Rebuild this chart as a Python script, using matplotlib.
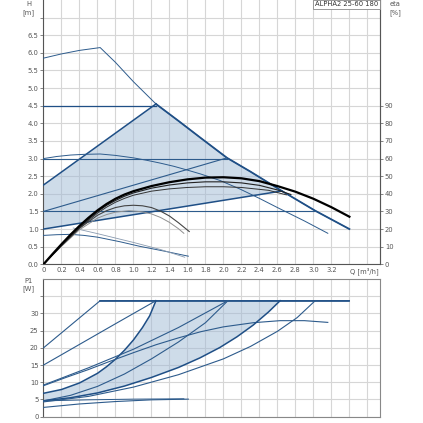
import matplotlib
matplotlib.use('Agg')
import matplotlib.pyplot as plt
import numpy as np

# ---------------- data : head plot (Q [m3/h], H [m]) ----------------
max_q = [0, 0.2, 0.4, 0.63, 0.8, 1.0, 1.25, 1.5, 1.74, 2.04, 2.3, 2.65, 3.02, 3.4]
max_h = [5.85, 5.97, 6.07, 6.15, 5.73, 5.18, 4.55, 4.07, 3.6, 3.02, 2.63, 2.08, 1.52, 1.0]
cp45_q = [0, 1.25]; cp45_h = [4.5, 4.5]
ppmax_q = [0, 1.25]; ppmax_h = [2.25, 4.55]
cp30_q = [0, 2.04]; cp30_h = [3.0, 3.0]
pp2_q = [0, 2.04]; pp2_h = [1.5, 3.02]
cp15_q = [0, 3.02]; cp15_h = [1.5, 1.5]
pp1_q = [0, 2.65]; pp1_h = [1.0, 2.08]
sp3_q = [0, 0.15, 0.3, 0.45, 0.63, 0.8, 1.0, 1.15, 1.3, 1.45, 1.59, 1.75, 1.96, 2.18, 2.4, 2.6, 2.9, 3.16]
sp3_h = [3.0, 3.06, 3.1, 3.12, 3.13, 3.09, 3.02, 2.95, 2.87, 2.78, 2.68, 2.56, 2.38, 2.14, 1.87, 1.61, 1.23, 0.88]
sp1_q = [0, 0.15, 0.3, 0.45, 0.6, 0.85, 1.07, 1.35, 1.61]
sp1_h = [0.82, 0.84, 0.85, 0.82, 0.77, 0.64, 0.51, 0.37, 0.23]
gr_q = [0.33, 0.6, 1.0, 1.3, 1.57]
gr_h = [1.03, 0.87, 0.62, 0.42, 0.2]

# efficiency curves (eta [%])
e1_q = [0, 0.1, 0.2, 0.3, 0.4, 0.5, 0.6, 0.7, 0.8, 0.9, 1.0, 1.2, 1.4, 1.6, 1.8, 2.0, 2.2, 2.4, 2.6, 2.8, 3.0, 3.2, 3.4]
e1_v = [0, 5.8, 11.4, 16.8, 21.8, 26.4, 30.6, 34.2, 37.2, 39.6, 41.5, 44.4, 46.6, 48.2, 49.2, 49.4, 48.8, 47.2, 44.4, 41.2, 37.2, 32.4, 27]
e2_q = [0, 0.2, 0.4, 0.6, 0.7, 0.8, 0.9, 1.0, 1.2, 1.4, 1.6, 1.8, 2.0, 2.2, 2.4, 2.6, 2.75]
e2_v = [0, 11, 21.2, 29.8, 33.4, 36.2, 38.6, 40.5, 43.2, 45, 46.2, 46.8, 46.8, 46.2, 44.8, 42.2, 39.6]
e3_q = [0, 0.2, 0.4, 0.6, 0.7, 0.8, 0.9, 1.0, 1.2, 1.4, 1.6, 1.8, 2.0, 2.2, 2.5, 2.7]
e3_v = [0, 10.6, 20.6, 29, 32.4, 35.2, 37.4, 39.2, 41.5, 42.8, 43.6, 44, 44, 43.6, 42, 39.4]
e4_q = [0, 0.2, 0.4, 0.6, 0.7, 0.8, 0.9, 1.0, 1.1, 1.2, 1.3, 1.4, 1.5, 1.62]
e4_v = [0, 10.6, 20.4, 27.8, 30.4, 32.2, 33.2, 33.5, 33.2, 32.2, 30.2, 27.4, 23.6, 18.6]
e5_q = [0, 0.2, 0.4, 0.6, 0.7, 0.8, 0.95, 1.1, 1.2, 1.3, 1.4, 1.5, 1.56]
e5_v = [0, 10.2, 19.6, 26.2, 28.2, 29.6, 30.4, 29.8, 28.6, 26.6, 23.8, 20.2, 17.6]

# ---------------- data : power plot (P1 [W]) ----------------
pmax_q = [0, 0.63, 3.4]; pmax_p = [20, 33.7, 33.7]
pcp45_q = [0, 0.4, 0.8, 1.25]; pcp45_p = [15, 21, 27, 33.7]
pppmax_q = [0, 0.2, 0.4, 0.6, 0.7, 0.8, 0.9, 1.0, 1.1, 1.18, 1.25]
pppmax_p = [6.8, 7.9, 9.8, 12.6, 14.5, 16.7, 19.3, 22.3, 25.9, 29.3, 33.7]
pcp30_q = [0, 0.5, 1.0, 1.5, 2.05]; pcp30_p = [9.2, 14.2, 19.6, 25.9, 33.7]
ppp2_q = [0, 0.3, 0.6, 0.9, 1.2, 1.5, 1.8, 2.05]; ppp2_p = [4.6, 6.2, 8.8, 12.4, 16.8, 21.7, 27.3, 33.7]
psp3_q = [0, 0.25, 0.5, 0.75, 1.0, 1.25, 1.5, 1.75, 2.0, 2.33, 2.63, 2.9, 3.16]
psp3_p = [9.0, 11.4, 13.7, 16.2, 18.6, 20.9, 22.9, 24.7, 26.1, 27.3, 27.9, 27.9, 27.4]
ppp1_q = [0, 0.3, 0.6, 0.9, 1.2, 1.5, 1.74, 1.96, 2.15, 2.33, 2.5, 2.63]
ppp1_p = [4.6, 5.5, 6.9, 8.9, 11.4, 14.3, 17.1, 20.1, 23.2, 26.6, 30.4, 33.7]
pcp15_q = [0, 0.5, 1.0, 1.5, 2.0, 2.3, 2.6, 2.82, 3.02]
pcp15_p = [4.3, 5.9, 8.6, 12.2, 16.8, 20.4, 24.8, 28.8, 33.7]
psp1_q = [0, 0.4, 0.8, 1.2, 1.61]; psp1_p = [2.7, 3.7, 4.4, 4.9, 5.1]
pgr_q = [0, 0.5, 1.0, 1.56]; pgr_p = [4.6, 4.9, 5.1, 5.2]

# ticks / labels
q_ticks = [0, 0.2, 0.4, 0.6, 0.8, 1.0, 1.2, 1.4, 1.6, 1.8, 2.0, 2.2, 2.4, 2.6, 2.8, 3.0, 3.2, 3.4, 3.6]
q_labels = ['0', '0.2', '0.4', '0.6', '0.8', '1.0', '1.2', '1.4', '1.6', '1.8', '2.0', '2.2',
            '2.4', '2.6', '2.8', '3.0', '3.2', '', '']
h_ticks = [0, 0.5, 1.0, 1.5, 2.0, 2.5, 3.0, 3.5, 4.0, 4.5, 5.0, 5.5, 6.0, 6.5, 7.0]
h_labels = ['0.0', '0.5', '1.0', '1.5', '2.0', '2.5', '3.0', '3.5', '4.0', '4.5', '5.0', '5.5', '6.0', '6.5', '']
eta_ticks = [0, 10, 20, 30, 40, 50, 60, 70, 80, 90]
p_ticks = [0, 5, 10, 15, 20, 25, 30, 35]
p_labels = ['0', '5', '10', '15', '20', '25', '30', '']
title_text = 'ALPHA2 25-60 180'

# ---------------- style ----------------
BL = '#2d5b8c'
BLD = '#1f4f86'
FILL = '#9fbad5'
GRID = '#d6d6d6'
SP = '#555555'
FS = 4.9

fig = plt.figure(figsize=(4.23, 4.23), dpi=100)
ax1 = fig.add_axes([0.1028, 0.3752, 0.7955, 0.6248])
ax2 = fig.add_axes([0.1028, 0.0149, 0.7955, 0.3255])

XMAX = 3.74
for ax in (ax1, ax2):
    ax.set_xlim(0, XMAX)
    ax.set_xticks(q_ticks)
    ax.grid(True, color=GRID, lw=0.8)
    ax.set_axisbelow(True)
    for s in ax.spines.values():
        s.set_color('#888888')
        s.set_linewidth(0.8)
    ax.spines['left'].set_color(SP)
    ax.tick_params(colors=SP, labelsize=FS, length=2, width=0.5, pad=1.5)

# ---- top plot ----
ax1.set_ylim(0, 7.5)
ax1.set_yticks(h_ticks)
ax1.set_yticklabels(h_labels)
ax1.set_xticklabels(q_labels)
ax1.tick_params(axis='x', length=0, pad=2)
ax1.spines['top'].set_visible(False)
ax1.spines['bottom'].set_color(SP)

# shaded region
mq = np.array(max_q); mh = np.array(max_h)
sel = (mq >= 1.25) & (mq <= 2.65)
poly_q = [0] + list(ppmax_q) + list(mq[sel]) + list(pp1_q[::-1])
poly_h = [pp1_h[0]] + list(ppmax_h) + list(mh[sel]) + list(pp1_h[::-1])
ax1.fill(poly_q, poly_h, color=FILL, alpha=0.5, lw=0, zorder=1)

ax1.plot(max_q, max_h, color=BL, lw=0.7, zorder=3)
ax1.plot(mq[mq >= 1.25], mh[mq >= 1.25], color=BLD, lw=1.3, zorder=3)
ax1.plot(cp45_q, cp45_h, color=BLD, lw=0.9, zorder=3)
ax1.plot(ppmax_q, ppmax_h, color=BLD, lw=1.1, zorder=3)
ax1.plot(cp30_q, cp30_h, color=BL, lw=0.8, zorder=3)
ax1.plot(pp2_q, pp2_h, color=BL, lw=0.8, zorder=3)
ax1.plot(cp15_q, cp15_h, color=BL, lw=0.8, zorder=3)
ax1.plot(pp1_q, pp1_h, color=BLD, lw=1.1, zorder=3)
ax1.plot(sp3_q, sp3_h, color=BL, lw=0.7, zorder=3)
ax1.plot(sp1_q, sp1_h, color=BL, lw=0.7, zorder=3)
ax1.plot(gr_q, gr_h, color='#8a9bb0', lw=0.6, zorder=3)

ax1e = ax1.twinx()
ax1e.set_position(ax1.get_position())
ax1e.set_ylim(0, 150)
ax1e.set_yticks(eta_ticks)
ax1e.tick_params(colors=SP, labelsize=FS, length=2, width=0.5, pad=1.5)
for s in ax1e.spines.values():
    s.set_visible(False)
ax1e.spines['right'].set_visible(True)
ax1e.spines['right'].set_color(SP)
ax1e.spines['right'].set_linewidth(0.8)
ax1e.plot(e5_q, e5_v, color='#909090', lw=0.7, zorder=4)
ax1e.plot(e4_q, e4_v, color='#444444', lw=0.8, zorder=4)
ax1e.plot(e3_q, e3_v, color='#333333', lw=0.7, zorder=4)
ax1e.plot(e2_q, e2_v, color='#222222', lw=0.8, zorder=4)
ax1e.plot(e1_q, e1_v, color='#000000', lw=1.6, zorder=5)

# labels
fig.text(28.5 / 423, 1 - 3.5 / 423, 'H', fontsize=FS, color=SP, ha='center', va='center')
fig.text(28.5 / 423, 1 - 12.3 / 423, '[m]', fontsize=FS, color=SP, ha='center', va='center')
fig.text(395 / 423, 1 - 3.5 / 423, 'eta', fontsize=FS, color=SP, ha='center', va='center')
fig.text(395 / 423, 1 - 12.3 / 423, '[%]', fontsize=FS, color=SP, ha='center', va='center')
fig.text(364 / 423, 1 - 271 / 423, 'Q [m³/h]', fontsize=FS, color=SP, ha='center', va='center')
fig.text(28.5 / 423, 1 - 280.5 / 423, 'P1', fontsize=FS, color=SP, ha='center', va='center')
fig.text(28.5 / 423, 1 - 288.5 / 423, '[W]', fontsize=FS, color=SP, ha='center', va='center')
fig.text(378 / 423, 1 - 4.5 / 423, title_text, fontsize=FS, color='#333333', ha='right', va='center',
         bbox=dict(boxstyle='square,pad=0.25', fc='white', ec='#888888', lw=0.6))

# ---- bottom plot ----
ax2.set_ylim(0, 40)
ax2.set_yticks(p_ticks)
ax2.set_yticklabels(p_labels)
ax2.set_xticklabels([])
ax2.tick_params(axis='x', length=0)

ppoly_q = list(pppmax_q) + [2.63] + list(ppp1_q[::-1])
ppoly_p = list(pppmax_p) + [33.7] + list(ppp1_p[::-1])
ax2.fill(ppoly_q, ppoly_p, color=FILL, alpha=0.5, lw=0, zorder=1)

ax2.plot(pmax_q, pmax_p, color=BL, lw=0.8, zorder=3)
ax2.plot([0.63, 3.4], [33.7, 33.7], color=BLD, lw=1.2, zorder=3)
ax2.plot(pcp45_q, pcp45_p, color=BL, lw=0.8, zorder=3)
ax2.plot(pppmax_q, pppmax_p, color=BLD, lw=1.1, zorder=3)
ax2.plot(pcp30_q, pcp30_p, color=BL, lw=0.8, zorder=3)
ax2.plot(ppp2_q, ppp2_p, color=BL, lw=0.8, zorder=3)
ax2.plot(psp3_q, psp3_p, color=BL, lw=0.8, zorder=3)
ax2.plot(ppp1_q, ppp1_p, color=BLD, lw=1.1, zorder=3)
ax2.plot(pcp15_q, pcp15_p, color=BL, lw=0.8, zorder=3)
ax2.plot(psp1_q, psp1_p, color=BL, lw=0.8, zorder=3)
ax2.plot(pgr_q, pgr_p, color=BL, lw=0.7, zorder=3)

fig.savefig('out.png', dpi=100)
